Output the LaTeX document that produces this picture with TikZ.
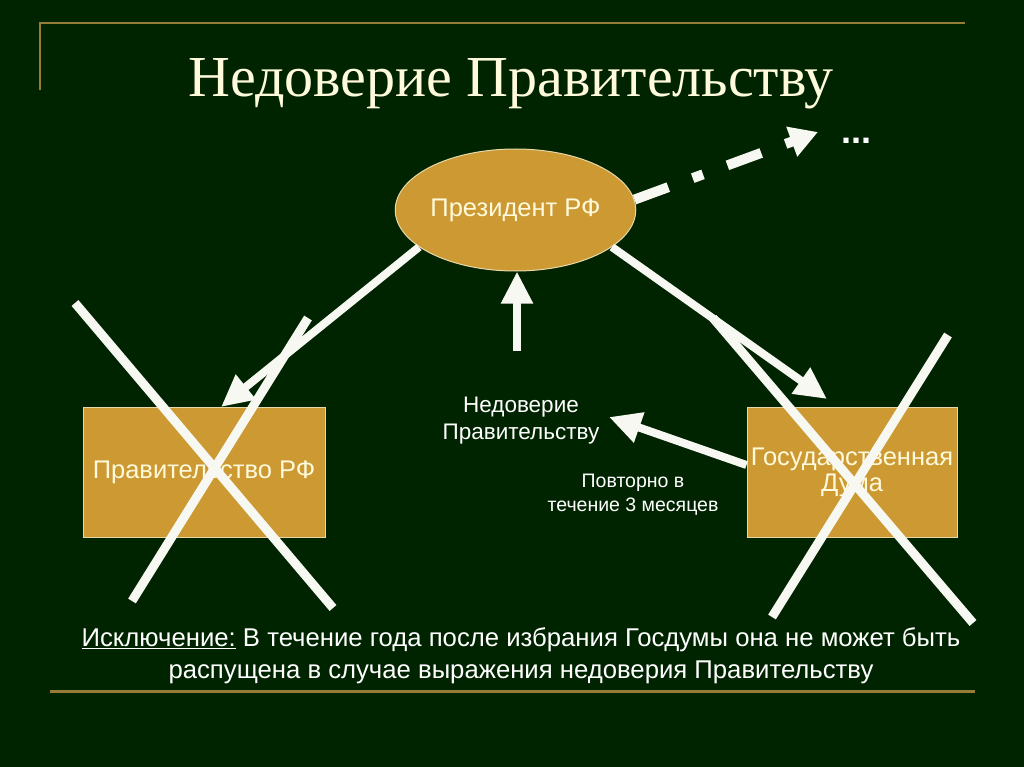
\documentclass[tikz,border=0pt]{standalone}
\usepackage{fontspec}
\setmainfont{Liberation Sans}
\newfontfamily\titlefont{Liberation Serif}
\usetikzlibrary{arrows.meta,shapes.geometric}
\definecolor{bg}{RGB}{0,36,0}
\definecolor{goldline}{RGB}{150,125,55}
\definecolor{boxfill}{RGB}{204,153,51}
\definecolor{boxedge}{RGB}{232,216,168}
\definecolor{cream}{RGB}{255,250,220}
\definecolor{wline}{RGB}{248,248,242}
\tikzset{
  box/.style={draw=boxedge, line width=1pt, fill=boxfill, minimum width=242pt, minimum height=130pt, inner sep=0pt, text=cream, font=\fontsize{25.5}{28}\selectfont, align=center},
  bigarrow/.style={draw=wline, line width=8pt, -{Triangle[length=32pt,width=30pt]}},
  cross/.style={draw=wline, line width=9pt},
  label/.style={text=white, align=center},
}
\begin{document}
\begin{tikzpicture}[x=1pt,y=-1pt]
\fill[bg] (0,0) rectangle (1024,767);
\useasboundingbox (0,0) rectangle (1024,767);
% frame lines
\draw[goldline, line width=2pt] (40,90) -- (40,23) -- (965,23);
\draw[goldline, line width=3pt] (50,691) -- (975,691);
% title
\node[text=cream, font=\titlefont\fontsize{58}{64}\selectfont, anchor=base, inner sep=0pt] (title) at (511,97) {Недоверие Правительству};
% nodes
\node[ellipse, draw=boxedge, line width=1pt, fill=boxfill, minimum width=235pt, minimum height=122pt, inner sep=0pt, text=cream, font=\fontsize{25.5}{28}\selectfont] (pres) at (515.5,210) {Президент РФ};
\node[box] (gov) at (204,472) {Правительство РФ};
\node[box, minimum width=210pt] (duma) at (852,472) {Государственная\\[-2pt]Дума};
\node[label, font=\fontsize{22.5}{27}\selectfont] (nd) at (521,421) {Недоверие\\Правительству};
\node[label, font=\fontsize{19.5}{24}\selectfont] (rep) at (633,495) {Повторно в\\течение 3 месяцев};
\node[text=white, font=\bfseries\fontsize{36}{38}\selectfont, anchor=base, inner sep=0pt] (dots) at (856,144) {...};
% coordinates for arrow tips / free ends
\coordinate (govtip) at (221,407);
\coordinate (dumatip) at (827,399);
\coordinate (upstart) at (517,351);
\coordinate (ndtip) at (609,417);
\coordinate (dashtip) at (818,132);
% arrows
\draw[bigarrow] (pres.201) -- (govtip);
\draw[bigarrow] (pres.339) -- (dumatip);
\draw[bigarrow] (upstart) -- (upstart |- pres.south);
\draw[bigarrow] ([yshift=7pt]duma.west) -- (ndtip);
\draw[draw=wline, line width=10pt, dash pattern=on 36pt off 26pt on 11pt off 26pt, -{Triangle[length=28pt,width=30pt]}] (pres.5) -- (dashtip);
% crosses
\draw[cross] (75,303) -- (333,608);
\draw[cross] (308,318) -- (132,601);
\draw[cross] (713,318) -- (973,623);
\draw[cross] (948,335) -- (772,617);
% bottom text
\node[text=white, font=\fontsize{25.7}{32}\selectfont, align=center] (note) at (521,656) {\underline{Исключение:} В течение года после избрания Госдумы она не может быть\\распущена в случае выражения недоверия Правительству};
\end{tikzpicture}
\end{document}
